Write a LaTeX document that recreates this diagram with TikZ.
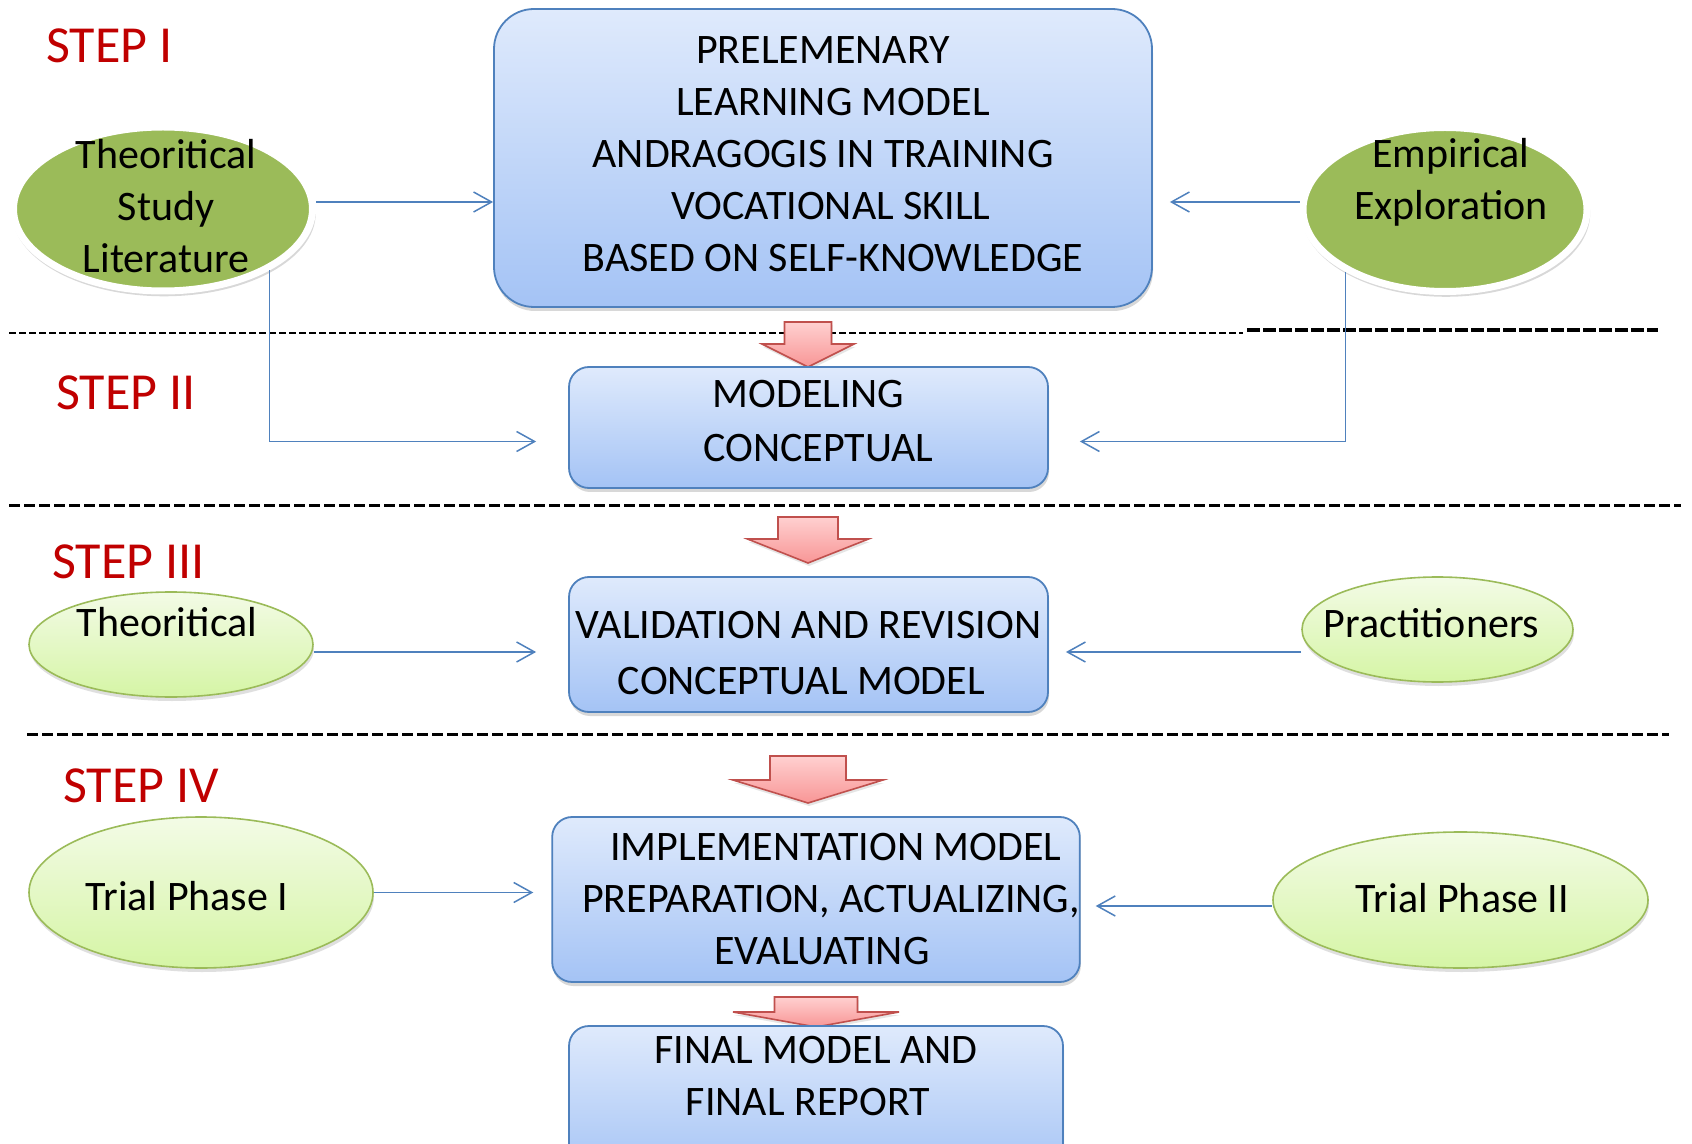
\documentclass[tikz,border=0pt]{standalone}
\usepackage{fontspec}
\setmainfont{Carlito}
\usetikzlibrary{positioning, shapes.geometric, arrows.meta, shadows}

\definecolor{boxblue}{RGB}{79,129,189}
\definecolor{boxtop}{RGB}{223,234,252}
\definecolor{boxbot}{RGB}{164,195,245}
\definecolor{leaf}{RGB}{155,187,89}
\definecolor{limetop}{RGB}{243,251,230}
\definecolor{limebot}{RGB}{213,245,165}
\definecolor{steprd}{RGB}{192,0,0}
\definecolor{arrowrd}{RGB}{192,80,77}
\definecolor{pinktop}{RGB}{255,208,208}
\definecolor{pinkbot}{RGB}{248,150,150}

% fat down arrow: x, top, half shaft, half head, head start, tip
\newcommand\bigdown[6]{%
  \draw[blockarrow] ({#1-#3},#2) -- ({#1+#3},#2) -- ({#1+#3},#5) -- ({#1+#4},#5)
    -- (#1,#6) -- ({#1-#4},#5) -- ({#1-#3},#5) -- cycle;}

\begin{document}
\begin{tikzpicture}[x=0.5pt,y=-0.5pt,every node/.style={font=\fontsize{21pt}{26pt}\selectfont}]
\path[use as bounding box, fill=white] (0,0) rectangle (1692,1144);
\clip (0,0) rectangle (1692,1144);
\tikzset{stage/.style={draw=boxblue, line width=0.9pt, top color=boxtop, bottom color=boxbot,
  rounded corners=10pt, align=center, inner sep=0pt,
  drop shadow={opacity=0.3, shadow xshift=0.5pt, shadow yshift=-2pt}}}
\tikzset{source/.style={ellipse, draw=white, line width=3.5pt, fill=leaf,
  drop shadow={opacity=0.3, shadow scale=1.015, shadow xshift=0.5pt, shadow yshift=-2pt}}}
\tikzset{trial/.style={ellipse, draw=leaf, line width=0.8pt, top color=limetop, bottom color=limebot,
  drop shadow={opacity=0.25, shadow xshift=0.5pt, shadow yshift=-2pt}}}
\tikzset{elltext/.style={inner sep=0pt, align=center}}
\tikzset{steptag/.style={text=steprd, font=\fontsize{26pt}{30pt}\selectfont, anchor=west, inner sep=0pt}}
\tikzset{divider/.style={line width=1.5pt, dash pattern=on 5.5pt off 2pt}}
\tikzset{link/.style={draw=boxblue, line width=0.75pt, -{Straight Barb[length=9pt,width=10pt]}}}
\tikzset{blockarrow/.style={draw=arrowrd, line width=0.8pt, top color=pinktop, bottom color=pinkbot,
  drop shadow={opacity=0.2, shadow xshift=0.5pt, shadow yshift=-1.5pt}}}

% separators
\draw[divider, line width=1.2pt, dash pattern=on 3.5pt off 1.5pt] (9,333) -- (1243,333);
\draw[divider, line width=2pt, dash pattern=on 6.5pt off 1.5pt] (1247,330) -- (1658,330);
\draw[divider] (9,505) -- (1681,505);
\draw[divider] (27,734) -- (1669,734);

% step I
\node[steptag] (s1) at (46,46) {STEP I};
\node[stage, rounded corners=20pt, minimum width=329pt, minimum height=149pt, text depth=3.8pt] (top) at (823,158)
  {PRELEMENARY\\\hspace*{10pt}LEARNING MODEL\\ANDRAGOGIS IN TRAINING\\\hspace*{8pt}VOCATIONAL SKILL\\\hspace*{10pt}BASED ON SELF-KNOWLEDGE};
\node[source, minimum width=149.5pt, minimum height=82pt] (th1) at (163,209) {};
\node[elltext] (th1t) at ([xshift=1.6pt,yshift=1.6pt]th1.center) {Theoritical\\Study\\Literature};
\node[source, minimum width=142pt, minimum height=82pt] (emp) at (1445,209.5) {};
\node[elltext] (empt) at ([xshift=3pt,yshift=13.5pt]emp.center) {Empirical\\Exploration};

% step II
\bigdown{808}{322}{23.5}{46}{344}{367}
\node[steptag] (s2) at (56,393) {STEP II};
\node[stage, minimum width=239.5pt, minimum height=60.5pt, text depth=6.5pt, font=\fontsize{21pt}{27pt}\selectfont] (mod) at (808.5,427.5)
  {MODELING\\\hspace*{10pt}CONCEPTUAL};

% step III
\bigdown{808}{517}{30}{60.5}{539}{563}
\node[steptag] (s3) at (52,562) {STEP III};
\node[stage, minimum width=239.5pt, minimum height=67.5pt, font=\fontsize{21pt}{28pt}\selectfont] (val) at (808.5,644.5)
  {\\[-6pt]VALIDATION AND REVISION\\\hspace*{-7pt}CONCEPTUAL MODEL};
\node[trial, minimum width=142pt, minimum height=52.5pt] (th3) at (171,644.5) {};
\node[elltext] (th3t) at ([xshift=-2pt,yshift=11.25pt]th3.center) {Theoritical};
\node[trial, minimum width=135.5pt, minimum height=52.5pt] (prac) at (1437.5,629.5) {};
\node[elltext] (pract) at ([xshift=-3pt,yshift=3.25pt]prac.center) {Practitioners};

% step IV
\bigdown{808}{756}{38}{75}{780}{803}
\node[steptag] (s4) at (63,786) {STEP IV};
\node[stage, minimum width=262pt, minimum height=82.5pt] (imp) at (816,899.5)
  {\hspace*{20pt}IMPLEMENTATION MODEL\\\hspace*{15pt}PREPARATION, ACTUALIZING,\\\hspace*{6pt}EVALUATING};
\node[trial, minimum width=172pt, minimum height=75.5pt] (tp1) at (201,892.5) {};
\node[elltext] (tp1t) at ([xshift=-7pt,yshift=-2pt]tp1.center) {Trial Phase I};
\node[trial, minimum width=187.5pt, minimum height=68pt] (tp2) at (1460.5,900) {};
\node[elltext] (tp2t) at ([xshift=1pt,yshift=1pt]tp2.center) {Trial Phase II};

% final
\bigdown{816}{997}{41.5}{83}{1012}{1027}
\node[stage, minimum width=247pt, minimum height=76pt] (fin) at (816,1102)
  {FINAL MODEL AND\\\hspace*{-8pt}FINAL REPORT\\\mbox{}};

% connectors
\draw[link] ([yshift=3.5pt]th1.east) -- ([yshift=3.5pt]th1.east -| top.west);
\draw[link, shorten >=8.5pt] ([yshift=3.75pt]emp.west) -- ([yshift=3.75pt]emp.west -| top.east);
\draw[link, shorten >=16pt] (th1.330) |- ([yshift=-7pt]mod.west);
\draw[link, shorten >=15.5pt] (emp.212) |- ([yshift=-7pt]mod.east);
\draw[link, shorten >=16pt] ([yshift=-3.75pt]th3.east) -- ([yshift=-3.75pt]th3.east -| val.west);
\draw[link, shorten >=8.5pt] ([yshift=-11.25pt]prac.west) -- ([yshift=-11.25pt]prac.west -| val.east);
\draw[link, shorten >=9pt] (tp1.east) -- (tp1.east -| imp.west);
\draw[link, shorten >=7.5pt] ([yshift=-3pt]tp2.west) -- ([yshift=-3pt]tp2.west -| imp.east);
\end{tikzpicture}
\end{document}
